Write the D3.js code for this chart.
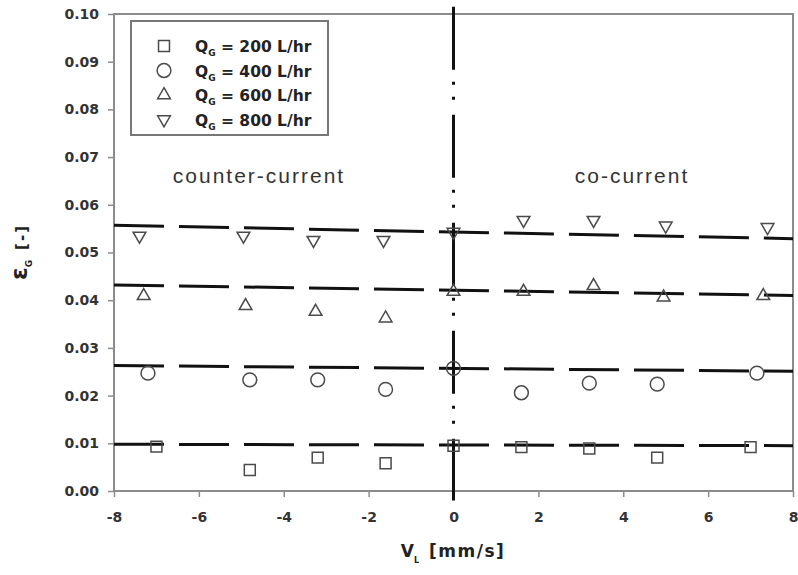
<!DOCTYPE html>
<html>
<head>
<meta charset="utf-8">
<script src="https://cdn.jsdelivr.net/npm/d3@7"></script>
<style>
  html, body { margin: 0; padding: 0; background: #fff; }
  svg { display: block; font-family: "Liberation Sans", Arial, sans-serif; }
</style>
</head>
<body>
<svg id="chart" width="798" height="575"></svg>
<script>
// Liquid superficial velocity, mm/s (negative = counter-current)
const vL = [-7.0, -4.8, -3.2, -1.6, 0, 1.6, 3.2, 4.8, 7.0];

// Gas holdup per gas flow rate
const holdup200 = [0.0093, 0.0044, 0.0070, 0.0058, 0.0095, 0.0092, 0.0089, 0.0070, 0.0092];
const vL400 = [-7.2, -4.8, -3.2, -1.6, 0, 1.6, 3.2, 4.8, 7.15];
const holdup400 = [0.0247, 0.0233, 0.0233, 0.0213, 0.0257, 0.0206, 0.0226, 0.0224, 0.0247];
const vL600 = [-7.3, -4.9, -3.25, -1.6, 0, 1.65, 3.3, 4.95, 7.3];
const holdup600 = [0.0409, 0.0388, 0.0376, 0.0362, 0.0418, 0.0418, 0.0430, 0.0406, 0.0409];
const vL800 = [-7.4, -4.95, -3.3, -1.65, 0, 1.65, 3.3, 5.0, 7.4];
const holdup800 = [0.0535, 0.0535, 0.0526, 0.0526, 0.0543, 0.0568, 0.0568, 0.0556, 0.0553];

// Trend lines: holdup at vL = -8 and vL = +8
const trendEnds = [
  [0.0098, 0.0095],
  [0.0263, 0.0251],
  [0.0432, 0.0410],
  [0.0557, 0.0529]
];

const seriesLabels = ["200", "400", "600", "800"];
const xTicks = [-8, -6, -4, -2, 0, 2, 4, 6, 8];
const yTicks = [0, 0.01, 0.02, 0.03, 0.04, 0.05, 0.06, 0.07, 0.08, 0.09, 0.10];

const svg = d3.select("#chart");
const x = d3.scaleLinear().domain([-8, 8]).range([114, 793]);
const y = d3.scaleLinear().domain([0, 0.1]).range([491, 14]);

const axisColor = "#8c8c8c";
const markColor = "#4a4a4a";
const boldFont = "DejaVu Sans, Verdana, sans-serif";

// plot frame
svg.append("rect")
  .attr("x", x(-8)).attr("y", y(0.1))
  .attr("width", x(8) - x(-8)).attr("height", y(0) - y(0.1))
  .attr("fill", "none").attr("stroke", axisColor).attr("stroke-width", 2);

// y axis
const yAxis = svg.append("g")
  .attr("transform", `translate(${x(-8)},0)`)
  .call(d3.axisLeft(y).tickValues(yTicks).tickFormat(d3.format(".2f")).tickSize(6).tickPadding(9));
yAxis.select(".domain").remove();
yAxis.selectAll(".tick line").attr("stroke", axisColor).attr("stroke-width", 1.5);
yAxis.selectAll(".tick text")
  .attr("fill", "#333").attr("font-size", 14).attr("font-weight", "bold")
  .attr("font-family", boldFont);

// x axis
const xAxis = svg.append("g")
  .attr("transform", `translate(0,${y(0)})`)
  .call(d3.axisBottom(x).tickValues(xTicks).tickFormat(d3.format("d")).tickSize(6).tickPadding(15));
xAxis.select(".domain").remove();
xAxis.selectAll(".tick line").attr("stroke", axisColor).attr("stroke-width", 1.5);
xAxis.selectAll(".tick text")
  .text(d => d < 0 ? "-" + Math.abs(d) : String(d))
  .attr("fill", "#333").attr("font-size", 14).attr("font-weight", "bold")
  .attr("font-family", boldFont);

// dashed trend lines
const line = d3.line().x(d => x(d[0])).y(d => y(d[1]));
trendEnds.forEach(e => {
  svg.append("path")
    .datum([[-8, e[0]], [8, e[1]]])
    .attr("d", line)
    .attr("fill", "none").attr("stroke", "#111").attr("stroke-width", 3)
    .attr("stroke-dasharray", "50,15");
});

// vertical divider at vL = 0 (dash-dot-dot)
svg.append("line")
  .attr("x1", x(0)).attr("x2", x(0))
  .attr("y1", y(0.1015)).attr("y2", y(-0.002))
  .attr("stroke", "#111").attr("stroke-width", 3)
  .attr("stroke-dasharray", "63,12,3,12,3,15");

// markers
const symSquare = d3.symbol().type(d3.symbolSquare).size(120)();
const symCircle = d3.symbol().type(d3.symbolCircle).size(150)();
const symTriangle = d3.symbol().type(d3.symbolTriangle).size(70)();

const groups = [
  { xs: vL, ys: holdup200, path: symSquare, rot: 0 },
  { xs: vL400, ys: holdup400, path: symCircle, rot: 0 },
  { xs: vL600, ys: holdup600, path: symTriangle, rot: 0 },
  { xs: vL800, ys: holdup800, path: symTriangle, rot: 180 }
];

groups.forEach(g => {
  svg.append("g").selectAll("path")
    .data(g.xs.map((v, i) => [v, g.ys[i]]))
    .join("path")
    .attr("d", g.path)
    .attr("transform", d => `translate(${x(d[0])},${y(d[1])}) rotate(${g.rot})`)
    .attr("fill", "none").attr("stroke", markColor).attr("stroke-width", 1.5);
});

// legend
const lg = svg.append("g");
lg.append("rect")
  .attr("x", 131).attr("y", 21).attr("width", 197).attr("height", 114)
  .attr("fill", "#fff").attr("stroke", "#777").attr("stroke-width", 2);
groups.forEach((g, i) => {
  const cy = 46 + i * 24.5;
  lg.append("path").attr("d", g.path)
    .attr("transform", `translate(164,${cy}) rotate(${g.rot})`)
    .attr("fill", "none").attr("stroke", markColor).attr("stroke-width", 1.5);
  const t = lg.append("text")
    .attr("x", 195).attr("y", cy + 6)
    .attr("font-family", boldFont)
    .attr("font-size", 15.5).attr("font-weight", "bold").attr("fill", "#222");
  t.append("tspan").text("Q");
  t.append("tspan").attr("font-size", 9).attr("dy", 4).text("G");
  t.append("tspan").attr("dy", -4).text(` = ${seriesLabels[i]} L/hr`);
});

// region annotations
svg.append("text").attr("x", 259).attr("y", 183).attr("text-anchor", "middle")
  .attr("font-size", 21).attr("letter-spacing", 2).attr("fill", "#333")
  .text("counter-current");
svg.append("text").attr("x", 632).attr("y", 183).attr("text-anchor", "middle")
  .attr("font-size", 21).attr("letter-spacing", 2).attr("fill", "#333")
  .text("co-current");

// axis titles
const xt = svg.append("text").attr("x", 453).attr("y", 557).attr("text-anchor", "middle")
  .attr("font-family", boldFont)
  .attr("font-size", 17).attr("font-weight", "bold").attr("fill", "#222");
xt.append("tspan").text("V");
xt.append("tspan").attr("font-size", 8).attr("dy", 6).text("L");
xt.append("tspan").attr("dy", -6).attr("dx", 10).attr("letter-spacing", 1.5).text("[mm/s]");

const yt = svg.append("text")
  .attr("transform", "translate(27,252) rotate(-90)")
  .attr("text-anchor", "middle")
  .attr("font-family", boldFont)
  .attr("font-size", 23).attr("font-weight", "bold").attr("fill", "#222");
yt.append("tspan").text("ε");
yt.append("tspan").attr("font-size", 9).attr("dy", 5).text("G");
yt.append("tspan").attr("dy", -5).attr("dx", 10).attr("font-size", 15).attr("letter-spacing", 2).text("[-]");
</script>
</body>
</html>
